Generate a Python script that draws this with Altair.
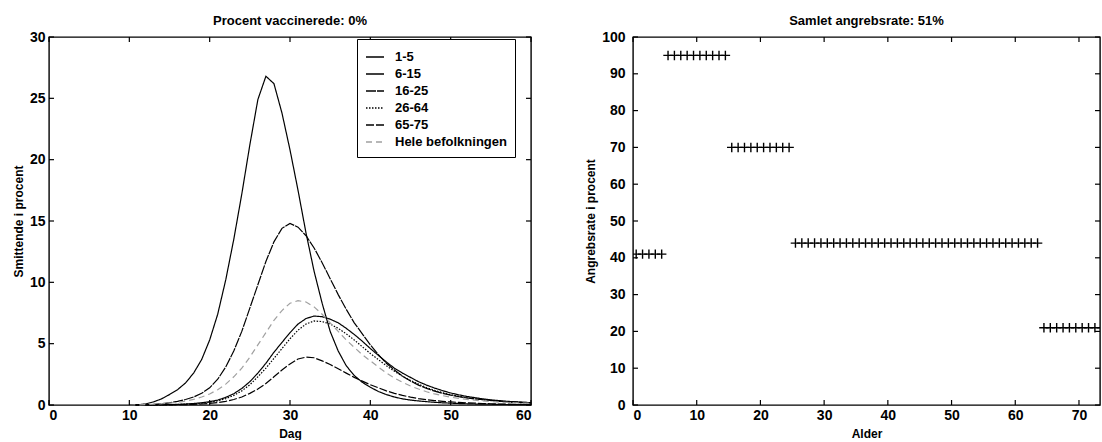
import altair as alt
import pandas as pd

# ---- left panel: share of each age group that is infectious, per day ----
days = list(range(10, 61))

age_groups = ["1-5", "6-15", "16-25", "26-64", "65-75", "Hele befolkningen"]

inf_1_5 = [0, 0, 0, 0.01, 0.02, 0.03, 0.05, 0.08, 0.12, 0.18, 0.27, 0.4, 0.62, 0.92, 1.35,
           1.9, 2.6, 3.4, 4.3, 5.1, 5.9, 6.6, 7.05, 7.25, 7.2, 7.0, 6.7, 6.25, 5.75, 5.2,
           4.6, 4.05, 3.5, 3.0, 2.6, 2.25, 1.9, 1.62, 1.38, 1.17, 0.98, 0.83, 0.7, 0.6, 0.5,
           0.42, 0.36, 0.3, 0.26, 0.22, 0.19]
inf_6_15 = [0.0, 0.02, 0.08, 0.25, 0.5, 0.85, 1.25, 1.8, 2.6, 3.7, 5.3, 7.4, 10.2, 13.5, 17.2,
            21.2, 24.9, 26.8, 26.2, 23.8, 20.8, 17.5, 14.0, 10.9, 8.3, 6.0, 4.4, 3.2, 2.4, 1.85,
            1.45, 1.1, 0.85, 0.65, 0.5, 0.4, 0.33, 0.27, 0.22, 0.18, 0.15, 0.12, 0.1, 0.08, 0.07,
            0.06, 0.05, 0.04, 0.03, 0.03, 0.02]
inf_16_25 = [0, 0, 0.02, 0.05, 0.1, 0.18, 0.3, 0.45, 0.65, 0.95, 1.4, 2.1, 3.1, 4.4, 6.0,
             7.9, 9.8, 11.7, 13.3, 14.4, 14.8, 14.5, 13.8, 12.8, 11.6, 10.3, 9.0, 7.8, 6.7, 5.8,
             4.9, 4.1, 3.4, 2.85, 2.35, 1.95, 1.62, 1.35, 1.13, 0.95, 0.8, 0.68, 0.58, 0.5, 0.43,
             0.37, 0.32, 0.28, 0.25, 0.22, 0.2]
inf_26_64 = [0, 0, 0, 0.01, 0.02, 0.03, 0.04, 0.07, 0.1, 0.15, 0.23, 0.34, 0.52, 0.78, 1.15,
             1.65, 2.3, 3.0, 3.8, 4.6, 5.4, 6.1, 6.6, 6.85, 6.8, 6.6, 6.25, 5.8, 5.3, 4.75,
             4.2, 3.7, 3.2, 2.75, 2.35, 2.0, 1.7, 1.42, 1.2, 1.0, 0.84, 0.71, 0.6, 0.51, 0.43,
             0.36, 0.3, 0.26, 0.22, 0.19, 0.16]
inf_65_75 = [0, 0, 0, 0, 0.01, 0.01, 0.02, 0.03, 0.05, 0.08, 0.13, 0.2, 0.3, 0.45, 0.65,
             0.95, 1.3, 1.75, 2.3, 2.85, 3.35, 3.75, 3.9, 3.85, 3.6, 3.3, 2.95, 2.6, 2.25, 1.95,
             1.65, 1.4, 1.15, 0.95, 0.78, 0.64, 0.52, 0.43, 0.36, 0.3, 0.25, 0.21, 0.18, 0.15, 0.12,
             0.1, 0.08, 0.07, 0.06, 0.05, 0.04]
inf_total = [0, 0.01, 0.03, 0.06, 0.1, 0.15, 0.22, 0.32, 0.46, 0.65, 0.9, 1.25, 1.7, 2.3, 3.0,
             3.9, 4.9, 5.9, 6.9, 7.7, 8.3, 8.5, 8.4, 8.0, 7.4, 6.7, 6.0, 5.3, 4.7, 4.1,
             3.6, 3.1, 2.6, 2.2, 1.85, 1.55, 1.3, 1.08, 0.9, 0.76, 0.64, 0.54, 0.46, 0.39, 0.33,
             0.28, 0.24, 0.21, 0.18, 0.16, 0.14]

series = [inf_1_5, inf_6_15, inf_16_25, inf_26_64, inf_65_75, inf_total]

# ---- right panel: attack rate per age group ----
group_first_age = [1, 6, 16, 26, 65]
group_last_age = [5, 15, 25, 64, 75]
attack_rate = [41, 95, 70, 44, 21]

# axis ticks
left_xticks = [0, 10, 20, 30, 40, 50, 60]
left_yticks = [0, 5, 10, 15, 20, 25, 30]
right_xticks = [0, 10, 20, 30, 40, 50, 60, 70]
right_yticks = [0, 10, 20, 30, 40, 50, 60, 70, 80, 90, 100]

FONT = "Liberation Sans"
W_L, W_R, H = 482, 467, 368
TICK = 5

curves = pd.DataFrame(
    [{"dag": d, "gruppe": g, "pct": v}
     for g, vals in zip(age_groups, series)
     for d, v in zip(days, vals)]
)

rows = []
for first, last, rate in zip(group_first_age, group_last_age, attack_rate):
    for age in range(first, last + 1):
        # each year of age is drawn at the middle of its interval
        rows.append({"alder": age - 0.5, "rate": rate})
attack = pd.DataFrame(rows)


def framed(xfield_title, x_domain, x_ticks, yfield_title, y_domain, y_ticks, width,
           ylabel_pad):
    """Inward tick marks on all four sides, drawn through the panel's scales."""
    xs = alt.Scale(domain=x_domain, nice=False, zero=False)
    ys = alt.Scale(domain=y_domain, nice=False, zero=False)
    xax = alt.Axis(values=x_ticks, ticks=False, domain=False, grid=False,
                   labelPadding=3, title=xfield_title, titlePadding=6)
    yax = alt.Axis(values=y_ticks, ticks=False, domain=False, grid=False,
                   labelPadding=ylabel_pad, title=yfield_title, titlePadding=4)
    xt = pd.DataFrame({"t": x_ticks})
    yt = pd.DataFrame({"t": y_ticks})
    rule = dict(color="black", strokeWidth=1.2)
    bottom = alt.Chart(xt).mark_rule(**rule).encode(
        x=alt.X("t:Q", scale=xs, axis=xax), y=alt.value(H), y2=alt.value(H - TICK))
    top = alt.Chart(xt).mark_rule(**rule).encode(
        x=alt.X("t:Q", scale=xs, axis=xax), y=alt.value(0), y2=alt.value(TICK))
    left = alt.Chart(yt).mark_rule(**rule).encode(
        y=alt.Y("t:Q", scale=ys, axis=yax), x=alt.value(0), x2=alt.value(TICK))
    right = alt.Chart(yt).mark_rule(**rule).encode(
        y=alt.Y("t:Q", scale=ys, axis=yax), x=alt.value(width), x2=alt.value(width - TICK))
    return xs, ys, xax, yax, [bottom, top, left, right]


# left panel
xs_l, ys_l, xax_l, yax_l, ticks_l = framed("Dag", [0, 60], left_xticks,
                                           "Smittende i procent", [0, 30], left_yticks,
                                           W_L, 4)
legend = alt.Legend(title=None, orient="none", legendX=308, legendY=2,
                    symbolType="stroke", symbolSize=324, symbolStrokeWidth=1.3,
                    labelFont=FONT, labelFontSize=13, labelFontWeight="bold",
                    labelColor="black", strokeColor="black", fillColor="white",
                    padding=8, rowPadding=0, labelOffset=10)
lines = alt.Chart(curves).mark_line(strokeWidth=1.2).encode(
    x=alt.X("dag:Q", scale=xs_l, axis=xax_l),
    y=alt.Y("pct:Q", scale=ys_l, axis=yax_l),
    color=alt.Color("gruppe:N", sort=age_groups, legend=legend,
                    scale=alt.Scale(domain=age_groups,
                                    range=["black", "black", "black", "black", "black",
                                           "#a0a0a0"])),
    strokeDash=alt.StrokeDash("gruppe:N", sort=age_groups, legend=legend,
                              scale=alt.Scale(domain=age_groups,
                                              range=[[1, 0], [1, 0], [10, 1], [1.5, 1.5],
                                                     [8, 2], [6, 4]])),
    order=alt.Order("dag:Q"),
)
left_panel = alt.layer(lines, *ticks_l).properties(
    width=W_L, height=H,
    title=alt.TitleParams("Procent vaccinerede: 0%", offset=2),
)

# right panel (age axis runs on past the last tick, cut at the panel edge)
xs_r, ys_r, xax_r, yax_r, ticks_r = framed("Alder", [0, 73.3], right_xticks,
                                           "Angrebsrate i procent", [0, 100], right_yticks,
                                           W_R, 8)
plus = "M-1,0L1,0M0,-1L0,1"
points = alt.Chart(attack).mark_point(shape=plus, size=90, filled=False, color="black",
                                      strokeWidth=1.4, opacity=1, clip=True).encode(
    x=alt.X("alder:Q", scale=xs_r, axis=xax_r),
    y=alt.Y("rate:Q", scale=ys_r, axis=yax_r),
)
right_panel = alt.layer(points, *ticks_r).properties(
    width=W_R, height=H,
    title=alt.TitleParams("Samlet angrebsrate: 51%", offset=2),
)

chart = alt.hconcat(left_panel, right_panel, spacing=102, bounds="flush").resolve_scale(
    x="independent", y="independent", color="independent", strokeDash="independent"
).properties(
    padding={"left": 11, "top": 14, "right": 0, "bottom": 0},
    background="white",
).configure_view(
    stroke="black", strokeWidth=1.4
).configure_axis(
    labelFont=FONT, labelFontSize=14, labelColor="black", labelFontWeight="bold",
    titleFont=FONT, titleFontSize=12, titleColor="black", titleFontWeight="bold",
).configure_title(
    font=FONT, fontSize=13, color="black", fontWeight="bold", anchor="middle",
)

chart.save("out.html", embed_options={"renderer": "svg", "actions": False})
